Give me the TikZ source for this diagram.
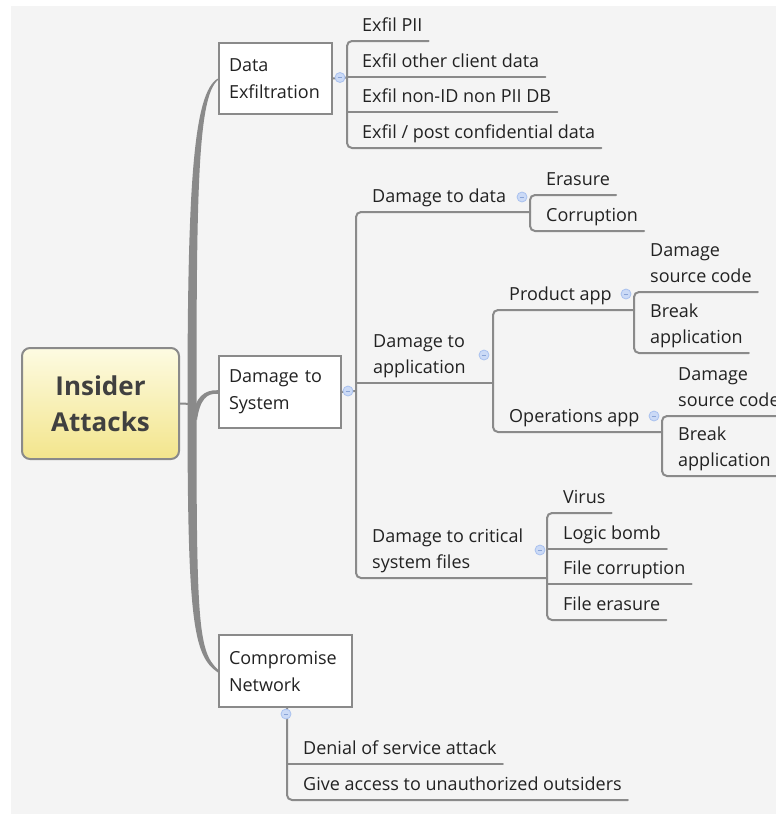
\documentclass[tikz,border=0pt]{standalone}
\usepackage{fontspec}
\setmainfont{Open Sans}
\definecolor{bgc}{HTML}{F4F4F4}
\definecolor{linec}{HTML}{8A8A8A}
\definecolor{txtc}{HTML}{222222}
\definecolor{roottxt}{HTML}{404040}
\definecolor{roottop}{HTML}{FDFBE2}
\definecolor{rootbot}{HTML}{F3E58C}
\definecolor{foldfill}{HTML}{CBDAF6}
\definecolor{folddraw}{HTML}{A9C1EF}
\definecolor{foldminus}{HTML}{8AA4D6}
\tikzset{
  conn/.style={draw=linec, line width=2pt, line cap=round},
  leaf/.style={anchor=south west, inner sep=0pt, text depth=0pt, align=left,
    text=txtc, font=\fontsize{18}{26}\selectfont},
  topic/.style={draw=linec, line width=2pt, fill=white, anchor=north west,
    inner xsep=10pt, inner ysep=0pt, align=left, text=txtc,
    font=\fontsize{18}{27}\selectfont},
  rootnode/.style={draw=linec, line width=2pt, rounded corners=8pt,
    top color=roottop, bottom color=rootbot, align=center, text=roottxt,
    font=\fontsize{26}{36}\selectfont\bfseries,
    minimum width=157pt, minimum height=111pt},
  fold/.style={circle, draw=folddraw, fill=foldfill, line width=0.8pt,
    minimum size=10pt, inner sep=0pt,
    path picture={\draw[foldminus, line width=0.9pt]
      ([xshift=-2.3pt]path picture bounding box.center) --
      ([xshift=2.3pt]path picture bounding box.center);}}
}
% a leaf label sitting on its underline; #3 is the underline height
\newcommand\mmleaf[4]{%
  \node[leaf] (#1) at (#2,#3-9) {#4};
  \coordinate (#1-u) at ([xshift=6pt,yshift=-9pt]#1.south east);}
\begin{document}
\begin{tikzpicture}[x=1pt,y=-1pt]
\useasboundingbox (0,0) rectangle (776,814);
\fill[white] (0,0) rectangle (776,814);
\fill[bgc] (11,6) rectangle (776,814);

% central topic and main topics
\node[rootnode] (root) at (100.5,403.5) {Insider\\Attacks};
\node[topic, text width=93pt, minimum height=71pt] (exf) at (218,42) {Data\\Exfiltration};
\node[topic, text width=102pt, minimum height=72pt] (sys) at (218,355) {Damage to\\System};
\node[topic, text width=113pt, minimum height=72pt] (cmp) at (218,634) {Compromise\\Network};

% tapered trunk from the central topic
\coordinate (tk) at (192,404);
\draw[conn] (root.east) -- (tk);
\fill[linec] (187.5,404) .. controls (187.5,190) and (193,92) .. (exf.west)
  -- ([yshift=-1.5pt]exf.west) .. controls (198,96) and (196.5,190) .. (196.5,404) -- cycle;
\fill[linec] (187.5,404) .. controls (187.5,620) and (193,656) .. ([yshift=-1.5pt]cmp.west)
  -- ([yshift=1.5pt]cmp.west) .. controls (198,652) and (196.5,620) .. (196.5,404) -- cycle;
\fill[linec] (193,416) .. controls (195,398) and (204,389.5) .. ([yshift=1.8pt]sys.west)
  -- ([yshift=-1.8pt]sys.west) .. controls (207,393) and (200,399) .. (197,420) -- cycle;

% Data Exfiltration
\mmleaf{e1}{362}{41}{Exfil PII}
\mmleaf{e2}{362}{77}{Exfil other client data}
\mmleaf{e3}{362}{112}{Exfil non-ID non PII DB}
\mmleaf{e4}{362}{148}{Exfil / post confidential data}
\coordinate (bE) at (347,77.5);
\draw[conn] (exf.east) -- (bE);
\draw[conn, rounded corners=5pt] (e1-u) -- (bE |- e1-u) -- (bE |- e4-u) -- (e4-u);
\draw[conn] (bE |- e2-u) -- (e2-u);
\draw[conn] (bE |- e3-u) -- (e3-u);

% Damage to System
\mmleaf{d1}{372}{212}{Damage to data}
\mmleaf{d2}{373}{383}{Damage to\\application}
\mmleaf{d3}{372}{578}{Damage to critical\\system files}
\coordinate (bS) at (356,391);
\coordinate (bD1) at (530,212);
\coordinate (bD2) at (493,383);
\coordinate (bD3) at (547,578);
\draw[conn] (sys.east) -- (bS);
\draw[conn, rounded corners=5pt] (bD1) -- (bS |- d1-u) -- (bS |- d3-u) -- (bD3);
\draw[conn] (bS |- d2-u) -- (bD2);

% Damage to data
\mmleaf{er}{546}{195}{Erasure}
\mmleaf{co}{546}{231}{Corruption}
\draw[conn, rounded corners=5pt] (er-u) -- (bD1 |- er-u) -- (bD1 |- co-u) -- (co-u);

% Damage to application
\mmleaf{pa}{509}{310}{Product app}
\mmleaf{oa}{509}{432}{Operations app}
\coordinate (bPA) at (634,310);
\coordinate (bOA) at (662,432);
\draw[conn, rounded corners=5pt] (bPA) -- (bD2 |- pa-u) -- (bD2 |- oa-u) -- (bOA);

\mmleaf{ps}{650}{292}{Damage\\source code}
\mmleaf{pb}{650}{353}{Break\\application}
\draw[conn, rounded corners=5pt] (ps-u) -- (bPA |- ps-u) -- (bPA |- pb-u) -- (pb-u);

\mmleaf{os}{678}{416}{Damage\\source code}
\mmleaf{ob}{678}{476}{Break\\application}
\draw[conn, rounded corners=5pt] (os-u) -- (bOA |- os-u) -- (bOA |- ob-u) -- (ob-u);

% Damage to critical system files
\mmleaf{vi}{563}{513}{Virus}
\mmleaf{lb}{563}{549}{Logic bomb}
\mmleaf{fc}{563}{584}{File corruption}
\mmleaf{fe}{563}{620}{File erasure}
\draw[conn, rounded corners=5pt] (vi-u) -- (bD3 |- vi-u) -- (bD3 |- fe-u) -- (fe-u);
\draw[conn] (bD3 |- lb-u) -- (lb-u);
\draw[conn] (bD3 |- fc-u) -- (fc-u);

% Compromise Network
\mmleaf{dos}{303}{764}{Denial of service attack}
\mmleaf{gi}{303}{800}{Give access to unauthorized outsiders}
\coordinate (bC) at ([xshift=1.5pt]cmp.south);
\draw[conn, rounded corners=5pt] (bC) -- (bC |- gi-u) -- (gi-u);
\draw[conn] (bC |- dos-u) -- (dos-u);

% collapse markers
\node[fold] (fx) at (340,77.5) {};
\node[fold] (fs) at (348,391) {};
\node[fold] (fc1) at (286,714) {};
\node[fold] (fd1) at (522,197) {};
\node[fold] (fd2) at (484,355) {};
\node[fold] (fd3) at (540,550) {};
\node[fold] (fpa) at (626,294) {};
\node[fold] (foa) at (654,416) {};
\end{tikzpicture}
\end{document}
